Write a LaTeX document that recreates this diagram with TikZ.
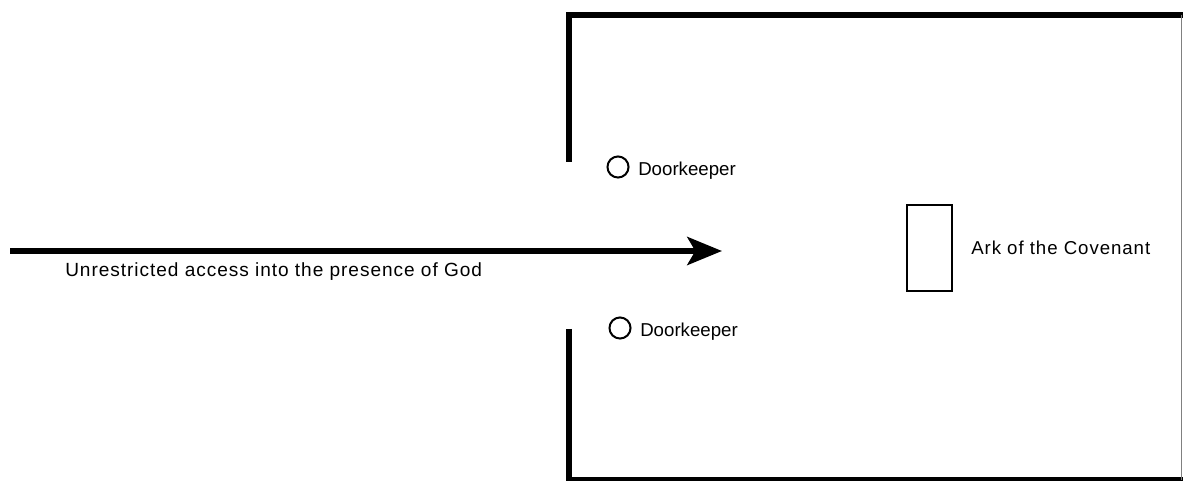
\documentclass[tikz,border=0pt]{standalone}
\usepackage{fontspec}
\setmainfont{Liberation Sans}
\newfontfamily\trackfont[LetterSpace=5]{Liberation Sans}
\usetikzlibrary{positioning,arrows.meta}
\tikzset{
  wall/.style={line width=3.9pt},
  keeper/.style={circle, draw, line width=1.5pt, minimum size=15.8pt, inner sep=0pt},
  ark/.style={draw, line width=1.5pt, minimum width=33.5pt, minimum height=64.5pt, inner sep=0pt},
  lbl/.style={font=\fontsize{14}{17}\selectfont, inner sep=0pt},
  tracked/.style={font=\trackfont\fontsize{14}{17}\selectfont, inner sep=0pt},
}
\begin{document}
\begin{tikzpicture}[x=0.75pt, y=-0.75pt]
    \useasboundingbox (0,0) rectangle (1183,481);
    % walls
    \draw[wall] (569,162) -- (569,15) -- (1183,15);
    \draw[wall] (569,329) -- (569,479.5) -- (1183,479.5);
    \draw[black!50, line width=0.75pt] (1181.5,15) -- (1181.5,479.5);
    % doorkeepers
    \node[keeper] (keeper1) at (618,167) {};
    \node[lbl, anchor=base west] (keeper1 text) at (638,175.5) {Doorkeeper};
    \node[keeper] (keeper2) at (620,328) {};
    \node[lbl, anchor=base west] (keeper2 text) at (640,336) {Doorkeeper};
    % ark
    \node[ark] (ark) at (929.5,248) {};
    \node[tracked, anchor=base west] (ark text) at (971,254.5) {Ark of the Covenant};
    % access
    \coordinate (entry) at (10,251);
    \coordinate (tip) at (722,251);
    \draw[line width=4.3pt, -{Stealth[length=26pt, width=21pt, inset=6pt]}] (entry) -- (tip);
    \node[tracked, font=\trackfont\fontsize{14.3}{17}\selectfont, anchor=base west] (access) at (65,276.5) {Unrestricted access into the presence of God};
\end{tikzpicture}
\end{document}
